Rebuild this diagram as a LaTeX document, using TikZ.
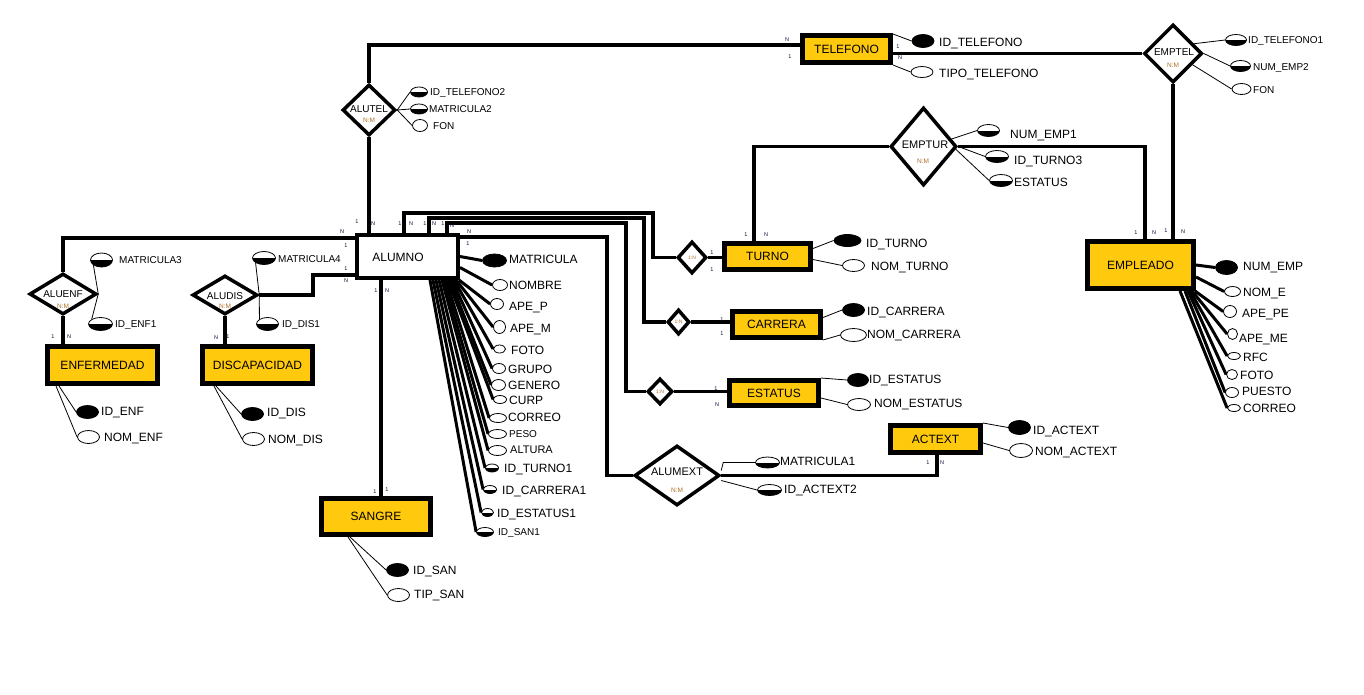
\documentclass[tikz,border=0pt]{standalone}
\usepackage{fontspec}
\setmainfont{Liberation Sans}
\usetikzlibrary{shapes.geometric}
\definecolor{gold}{HTML}{FFC90E}
\definecolor{nmcol}{HTML}{B07028}
\definecolor{navy}{HTML}{10103A}
\pgfdeclarelayer{back}
\pgfdeclarelayer{bg}
\pgfsetlayers{back,bg,main}
\newcommand\erattr[9]{%
  \node[#2, minimum width=#5pt, minimum height=#6pt] (#1) at (#3,#4) {};%
  \node[curlbl] (#1t) at (#7,#8) {#9};}
\begin{document}
\begin{tikzpicture}[x=1pt,y=-1pt,
  ent/.style={draw=black, fill=gold, line width=5pt, inner sep=0pt, font=\fontsize{12}{14}\selectfont},
  dia/.style={diamond, draw=black, fill=white, line width=3.5pt, inner sep=0pt},
  dtx/.style={inner sep=0pt, font=\fontsize{10}{12}\selectfont},
  dtxb/.style={inner sep=0pt, font=\fontsize{11}{13}\selectfont},
  nmtx/.style={inner sep=0pt, text=nmcol, font=\fontsize{6.5}{7}\selectfont},
  card/.style={inner sep=0pt, text=navy, font=\fontsize{5.5}{6}\selectfont},
  lbl/.style={inner sep=0pt, anchor=west, text height=8.6pt, text depth=0pt, font=\fontsize{12}{14}\selectfont},
  lbls/.style={inner sep=0pt, anchor=west, text height=7.2pt, text depth=0pt, font=\fontsize{10}{12}\selectfont},
  lblm/.style={inner sep=0pt, anchor=west, text height=7.9pt, text depth=0pt, font=\fontsize{11}{13}\selectfont},
  curlbl/.style={lbl},
  key/.style={ellipse, draw=black, fill=black, line width=0.8pt, inner sep=0pt},
  plain/.style={ellipse, draw=black, fill=white, line width=0.8pt, inner sep=0pt},
  half/.style={plain, path picture={\fill[black] (path picture bounding box.west) rectangle (path picture bounding box.south east);}},
  rel/.style={line width=3.5pt},
  al/.style={line width=0.8pt},
  alt/.style={line width=3pt}]
\begin{pgfonlayer}{back}
  \fill[white] (0,0) rectangle (1364,694);
\end{pgfonlayer}
\useasboundingbox (0,0) rectangle (1364,694);

% ---------- entities ----------
\node[ent, minimum width=88pt, minimum height=27pt] (telefono) at (846.5,49) {TELEFONO};
\node[ent, minimum width=86pt, minimum height=26pt] (turno) at (767.5,256.5) {TURNO};
\node[ent, minimum width=88pt, minimum height=26pt] (carrera) at (776.5,324.5) {CARRERA};
\node[ent, minimum width=89pt, minimum height=25pt] (estatus) at (774,393) {ESTATUS};
\node[ent, minimum width=90pt, minimum height=27pt] (actext) at (935.5,439) {ACTEXT};
\node[ent, minimum width=106pt, minimum height=47pt] (empleado) at (1140.5,265) {EMPLEADO};
\node[ent, minimum width=110pt, minimum height=37pt] (enfermedad) at (102.5,365) {ENFERMEDAD};
\node[ent, minimum width=110pt, minimum height=37pt] (discapacidad) at (257.5,365) {DISCAPACIDAD};
\node[ent, minimum width=109pt, minimum height=36pt] (sangre) at (376,516.5) {SANGRE};
\node[draw=black, fill=white, line width=4pt, inner sep=0pt, minimum width=101pt, minimum height=43pt] (alumno) at (407.5,256.5) {};
\node[inner sep=0pt, font=\fontsize{12}{14}\selectfont] (alumnot) at (398,257) {ALUMNO};

% ---------- relationships ----------
\node[dia, minimum width=53pt, minimum height=51pt] (alutel) at (369,110) {};
\node[dtx] (alutelt) at (369,109) {ALUTEL};
\node[nmtx] (alutelnm) at (369,120) {N:M};
\node[dia, minimum width=58pt, minimum height=58pt] (emptel) at (1173,53.5) {};
\node[dtx] (emptelt) at (1174,52) {EMPTEL};
\node[nmtx] (emptelnm) at (1173,65) {N:M};
\node[dia, minimum width=66pt, minimum height=78pt] (emptur) at (923.5,146.5) {};
\node[dtxb] (emptureT) at (925,145) {EMPTUR};
\node[nmtx] (empturnm) at (923,161) {N:M};
\node[dia, minimum width=85pt, minimum height=60pt] (alumext) at (677,475.5) {};
\node[dtxb] (alumextt) at (677,472) {ALUMEXT};
\node[nmtx] (alumextnm) at (677,490) {N:M};
\node[dia, minimum width=67pt, minimum height=41pt] (aluenf) at (63,294) {};
\node[dtx] (aluenft) at (63,294) {ALUENF};
\node[nmtx] (aluenfnm) at (63,306) {N:M};
\node[dia, minimum width=65pt, minimum height=39pt] (aludis) at (225,295) {};
\node[dtx] (aludist) at (225,296) {ALUDIS};
\node[nmtx] (aludisnm) at (225,306) {N:M};
\node[dia, minimum width=29pt, minimum height=32pt] (dturno) at (692,257.5) {};
\node[nmtx, font=\fontsize{5}{6}\selectfont] (dturnot) at (692,258) {1:N};
\node[dia, minimum width=22pt, minimum height=25pt] (dcarrera) at (678.5,322) {};
\node[nmtx, font=\fontsize{5}{6}\selectfont] (dcarrerat) at (678.5,322) {1:N};
\node[dia, minimum width=25pt, minimum height=26pt] (destatus) at (660,391.5) {};
\node[nmtx, font=\fontsize{5}{6}\selectfont] (destatust) at (660,392) {1:N};

% ---------- attributes ----------
\erattr{tA1}{key}{923}{41}{22}{13}{939}{42}{ID\_TELEFONO}
\erattr{tA2}{plain}{922}{72}{22}{11}{939}{73}{TIPO\_TELEFONO}
\erattr{tuA1}{key}{847.5}{240.5}{27}{12}{866}{243}{ID\_TURNO}
\erattr{tuA2}{plain}{853.5}{265.5}{22}{12}{871}{266}{NOM\_TURNO}
\erattr{caA1}{key}{853.5}{310}{22}{13}{867}{311}{ID\_CARRERA}
\erattr{caA2}{plain}{853.5}{335}{26}{13}{867}{334}{NOM\_CARRERA}
\erattr{esA1}{key}{858}{380}{21}{13}{869}{379}{ID\_ESTATUS}
\erattr{esA2}{plain}{859}{404.5}{23}{12}{874}{403}{NOM\_ESTATUS}
\erattr{acA1}{key}{1019.5}{427.5}{22}{14}{1033}{430}{ID\_ACTEXT}
\erattr{acA2}{plain}{1021}{450.5}{23}{14}{1035}{451}{NOM\_ACTEXT}
\erattr{amA1}{half}{767.5}{462.5}{24}{11}{780}{461}{MATRICULA1}
\erattr{amA2}{half}{769.5}{490}{24}{11}{784}{489}{ID\_ACTEXT2}
\erattr{euA1}{half}{988.5}{130.5}{22}{12}{1010}{134}{NUM\_EMP1}
\erattr{euA2}{half}{997}{156.5}{23}{12}{1014}{160}{ID\_TURNO3}
\erattr{euA3}{half}{1001}{180.5}{23}{12}{1014}{182}{ESTATUS}
\erattr{enA1}{key}{87.5}{412}{22}{13}{101}{411}{ID\_ENF}
\erattr{enA2}{plain}{88.5}{437}{22}{13}{104}{437}{NOM\_ENF}
\erattr{diA1}{key}{252.5}{414}{22}{13}{267}{412}{ID\_DIS}
\erattr{diA2}{plain}{253.5}{439}{22}{13}{268}{439}{NOM\_DIS}
\erattr{saA1}{key}{397.5}{570}{22}{13}{413}{570}{ID\_SAN}
\erattr{saA2}{plain}{398.5}{595}{22}{13}{414}{594}{TIP\_SAN}
% alumno
\erattr{mat}{key}{494.5}{260.5}{24}{13}{509}{259}{MATRICULA}
\erattr{nom}{plain}{500}{285}{15}{11}{509}{285}{NOMBRE}
\erattr{apep}{plain}{497}{304}{13}{11}{509}{306}{APE\_P}
\erattr{apem}{plain}{499.5}{327}{12}{13}{510}{328}{APE\_M}
\erattr{foto}{plain}{499.5}{349}{12}{8}{511}{350}{FOTO}
\erattr{grupo}{plain}{499}{368.5}{13}{10}{508}{369}{GRUPO}
\erattr{genero}{plain}{498.5}{385}{14}{11}{508}{385}{GENERO}
\erattr{curp}{plain}{500}{399.5}{13}{8}{509}{400}{CURP}
\erattr{correo}{plain}{498}{418}{17}{9}{508}{417}{CORREO}
\erattr{idturno}{half}{492}{468}{13}{8}{504}{468}{ID\_TURNO1}
\erattr{idcarrera}{half}{490}{489.5}{13}{8}{502}{490}{ID\_CARRERA1}
\erattr{idestatus}{half}{487.5}{512.5}{12}{8}{497}{513}{ID\_ESTATUS1}
\begin{scope}[curlbl/.style={lbls}]
\erattr{peso}{plain}{497.5}{434}{18}{9}{509}{434}{PESO}
\erattr{idsan}{half}{485}{532}{17}{9}{498}{532}{ID\_SAN1}
\end{scope}
\begin{scope}[curlbl/.style={lblm}]
\erattr{altura}{plain}{497.5}{450.5}{18}{10}{510}{450}{ALTURA}
\end{scope}
% empleado
\erattr{ne}{key}{1226.5}{267.5}{22}{14}{1243}{266}{NUM\_EMP}
\erattr{nome}{plain}{1232.5}{291.5}{16}{10}{1243}{292}{NOM\_E}
\erattr{apepe}{plain}{1230}{311.5}{13}{12}{1242}{313}{APE\_PE}
\erattr{apeme}{plain}{1232.5}{334}{10}{11}{1239}{338}{APE\_ME}
\erattr{rfc}{plain}{1234}{356}{13}{7}{1243}{357}{RFC}
\erattr{fotoe}{plain}{1232}{374.5}{11}{10}{1240}{375}{FOTO}
\erattr{puesto}{plain}{1232}{392.5}{13}{10}{1242}{391}{PUESTO}
\erattr{correoe}{plain}{1234}{408}{13}{7}{1243}{408}{CORREO}
% small-font groups
\begin{scope}[curlbl/.style={lbls}]
\erattr{atA1}{half}{419}{92}{17}{10}{430}{92}{ID\_TELEFONO2}
\erattr{atA2}{half}{419}{109}{17}{10}{429}{109}{MATRICULA2}
\erattr{atA3}{plain}{420}{125.5}{15}{12}{433}{126}{FON}
\erattr{etA1}{half}{1236}{40}{21}{11}{1248}{40}{ID\_TELEFONO1}
\erattr{etA2}{half}{1240.5}{66}{20}{11}{1253}{67}{NUM\_EMP2}
\erattr{etA3}{plain}{1241.5}{89}{19}{11}{1253}{90}{FON}
\erattr{aeA1}{half}{101.5}{260}{22}{14}{119}{260}{MATRICULA3}
\erattr{aeA2}{half}{100.5}{324}{24}{13}{115}{324}{ID\_ENF1}
\erattr{adA1}{half}{264}{258}{23}{13}{278}{259}{MATRICULA4}
\erattr{adA2}{half}{267.5}{324}{22}{13}{282}{324}{ID\_DIS1}
\end{scope}

% ---------- cardinality labels ----------
\node[card] (k1) at (357,222) {1};
\node[card] (k2) at (373,224) {N};
\node[card] (k3) at (400,224) {1};
\node[card] (k4) at (411,224) {N};
\node[card] (k5) at (425,224) {1};
\node[card] (k6) at (434,224) {N};
\node[card] (k7) at (443,224) {1};
\node[card] (k8) at (452,226) {N};
\node[card] (k9) at (469,232) {N};
\node[card] (k10) at (468,244) {1};
\node[card] (k11) at (342,232) {N};
\node[card] (k12) at (346,246) {1};
\node[card] (k13) at (346,269) {1};
\node[card] (k14) at (346,281) {N};
\node[card] (k15) at (376,291) {1};
\node[card] (k16) at (387,291) {N};
\node[card] (k17) at (375,492) {1};
\node[card] (k18) at (387,490) {1};
\node[card] (k19) at (53,337) {1};
\node[card] (k20) at (69,337) {N};
\node[card] (k21) at (216,338) {N};
\node[card] (k22) at (228,337) {1};
\node[card] (k23) at (787,40) {N};
\node[card] (k24) at (790,57) {1};
\node[card] (k25) at (898,47) {1};
\node[card] (k26) at (900,58) {N};
\node[card] (k27) at (746,235) {1};
\node[card] (k28) at (766,235) {N};
\node[card] (k29) at (712,253) {1};
\node[card] (k30) at (712,270) {1};
\node[card] (k31) at (722,320) {1};
\node[card] (k32) at (722,334) {1};
\node[card] (k33) at (716,389) {1};
\node[card] (k34) at (717,405) {N};
\node[card] (k35) at (1136,233) {1};
\node[card] (k36) at (1154,233) {N};
\node[card] (k37) at (1166,231) {1};
\node[card] (k38) at (1183,232) {N};
\node[card] (k39) at (928,463) {1};
\node[card] (k40) at (942,463) {N};

% ---------- connectors ----------
\begin{pgfonlayer}{bg}
\coordinate (c1) at (369,45);
\draw[rel] (telefono.west) ++(0,-4) -- (c1) -- (alutel.north);
\draw[rel] (alutel.south) -- (alutel.south |- alumno.north);
\draw[rel] (telefono.east |- emptel.west) -- (emptel.west);
\draw[rel] (emptel.south) -- (emptel.south |- empleado.north);
\coordinate (c2) at (754,145);
\draw[rel] (emptur.west) -- (emptur.west -| c2) -- (c2 |- turno.north);
\coordinate (c3) at (1145,147);
\draw[rel] (emptur.east) -- (emptur.east -| c3) -- (c3 |- empleado.north);
\coordinate (c4) at (404,213); \coordinate (c5) at (653,213);
\draw[rel] (c4 |- alumno.north) -- (c4) -- (c5) -- (c5 |- dturno.west) -- (dturno.west);
\coordinate (c6) at (429,218); \coordinate (c7) at (644,218);
\draw[rel] (c6 |- alumno.north) -- (c6) -- (c7) -- (c7 |- dcarrera.west) -- (dcarrera.west);
\coordinate (c8) at (447,223); \coordinate (c9) at (626,223);
\draw[rel] (c8 |- alumno.north) -- (c8) -- (c9) -- (c9 |- destatus.west) -- (destatus.west);
\coordinate (c10) at (607,237);
\draw[rel] (c10 -| alumno.east) -- (c10) -- (c10 |- alumext.west) -- (alumext.west);
\draw[rel] (dturno.east) -- (dturno.east -| turno.west);
\draw[rel] (dcarrera.east) -- (dcarrera.east -| carrera.west);
\draw[rel] (destatus.east) -- (destatus.east -| estatus.west);
\coordinate (c11) at (937,474);
\draw[rel] (alumext.east) -- (alumext.east -| c11) -- (c11 |- actext.south);
\coordinate (c12) at (63,238);
\draw[rel] (c12 -| alumno.west) -- (c12) -- (aluenf.north);
\draw[rel] (aluenf.south) -- (aluenf.south |- enfermedad.north);
\coordinate (c13) at (313,295); \coordinate (c14) at (313,275);
\draw[rel] (aludis.east) -- (c13) -- (c14) -- (c14 -| alumno.west);
\draw[rel] (aludis.south) -- (aludis.south |- discapacidad.north);
\coordinate (c15) at (381,300);
\draw[rel] (c15 |- alumno.south) -- (c15 |- sangre.north);

% attribute lines (thin)
\draw[al] (telefono.north east) ++(0,1) -- (tA1.west);
\draw[al] (telefono.south east) -- (tA2.west);
\draw[al] (emptel.25) -- (etA1.west);
\draw[al] (emptel.east) -- (etA2.west);
\draw[al] (emptel.-30) -- (etA3.west);
\draw[al] (alutel.east) -- (atA1.west);
\draw[al] (alutel.east) -- (atA2.west);
\draw[al] (alutel.east) -- (atA3.west);
\draw[al] (emptur.15) -- (euA1.west);
\draw[al] (emptur.east) -- (euA2.west);
\draw[al] (emptur.-5) -- (euA3.west);
\draw[al] (turno.east) ++(0,-8) -- (tuA1.west);
\draw[al] (turno.east) ++(0,3) -- (tuA2.west);
\draw[al] (carrera.east) ++(0,-7) -- (caA1.west);
\draw[al] (carrera.south east) -- (caA2.west);
\draw[al] (estatus.north east) -- (esA1.west);
\draw[al] (estatus.east) ++(0,5) -- (esA2.west);
\draw[al] (actext.north east) -- (acA1.west);
\draw[al] (actext.east) ++(0,4) -- (acA2.west);
\draw[al] (alumext.east) ++(0,-5) -- ++(2,-8) -- (amA1.west);
\draw[al] (alumext.east) ++(0,5) -- (amA2.west);
\draw[al] (aluenf.east) -- (aeA1.south west);
\draw[al] (aluenf.east) -- (aeA2.north west);
\draw[al] (aludis.east) -- (adA1.south west);
\draw[al] (aludis.east) -- (adA2.north west);
\draw[al] (enfermedad.south west) ++(14,0) -- (enA1.west);
\draw[al] (enfermedad.south west) ++(11,0) -- (enA2.west);
\draw[al] (discapacidad.south west) ++(16,0) -- (diA1.west);
\draw[al] (discapacidad.south west) ++(14,0) -- (diA2.west);
\draw[al] (sangre.south west) ++(31,0) -- (saA1.west);
\draw[al] (sangre.south west) ++(29,0) -- (saA2.west);

% attribute lines (thick)
\draw[alt] (alumno.east) -- (mat.west);
\draw[alt] (alumno.east) ++(0,11) -- (nom.west);
\draw[alt] (alumno.south east) ++(-1,0) -- (apep.west);
\draw[alt] (alumno.south east) ++(-4,0) -- (apem.west);
\draw[alt] (alumno.south east) ++(-6,0) -- (foto.west);
\draw[alt] (alumno.south east) ++(-8,0) -- (grupo.west);
\draw[alt] (alumno.south east) ++(-10,0) -- (genero.west);
\draw[alt] (alumno.south east) ++(-12,0) -- (curp.west);
\draw[alt] (alumno.south east) ++(-14,0) -- (correo.west);
\draw[alt] (alumno.south east) ++(-16,0) -- (peso.west);
\draw[alt] (alumno.south east) ++(-18,0) -- (altura.west);
\draw[alt] (alumno.south east) ++(-21,0) -- (idturno.west);
\draw[alt] (alumno.south east) ++(-24,0) -- (idcarrera.west);
\draw[alt] (alumno.south east) ++(-27,0) -- (idestatus.west);
\draw[alt] (alumno.south east) ++(-30,0) -- (idsan.west);
\draw[alt] (empleado.east) -- (ne.west);
\draw[alt] (empleado.east) ++(0,12) -- (nome.west);
\draw[alt] (empleado.south east) ++(-1,0) -- (apepe.west);
\draw[alt] (empleado.south east) ++(-4,0) -- (apeme.west);
\draw[alt] (empleado.south east) ++(-6,0) -- (rfc.west);
\draw[alt] (empleado.south east) ++(-8,0) -- (fotoe.west);
\draw[alt] (empleado.south east) ++(-11,0) -- (puesto.west);
\draw[alt] (empleado.south east) ++(-16,0) -- (correoe.west);
\end{pgfonlayer}
\end{tikzpicture}
\end{document}
